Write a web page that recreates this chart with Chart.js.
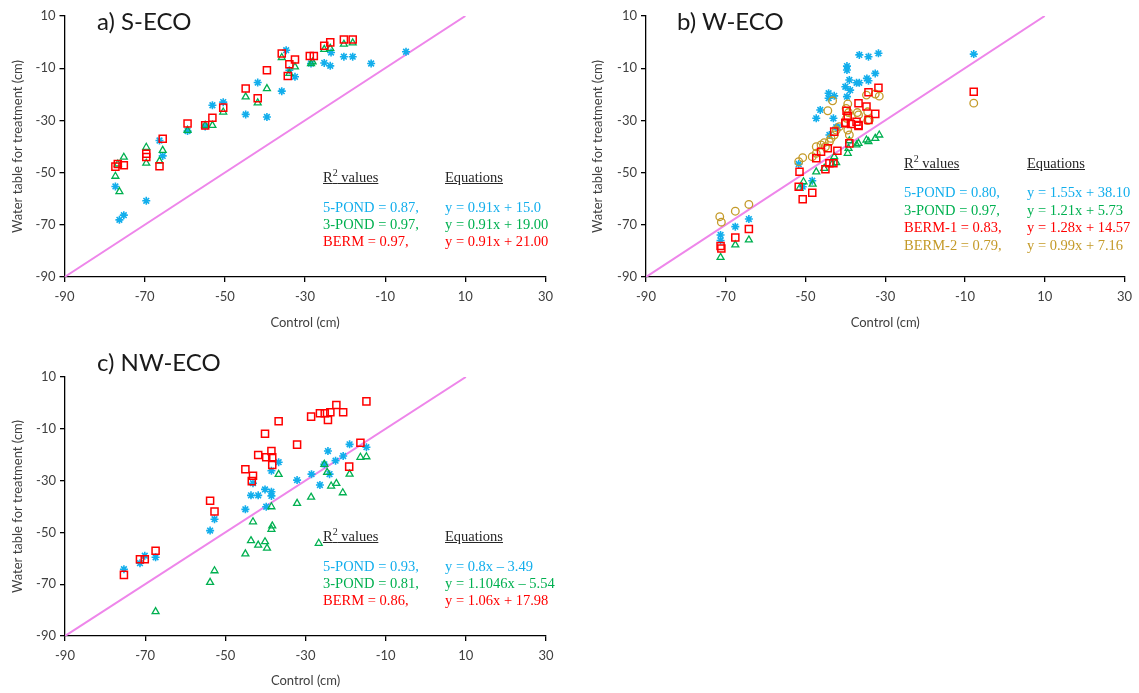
<!DOCTYPE html>
<html>
<head>
<meta charset="utf-8">
<script src="https://cdn.jsdelivr.net/npm/chart.js@4.4.0/dist/chart.umd.min.js"></script>
<style>
  body { margin: 0; background: #fff; }
  #page { position: relative; width: 1139px; height: 693px; overflow: hidden; background: #fff; }
  .panel { position: absolute; }
  .title { position: absolute; font-family: Lato, "Open Sans", sans-serif; font-size: 24px; line-height: 28px; color: #1a1a1a; white-space: nowrap; }
  .note { position: absolute; font-family: "Liberation Serif", "Times New Roman", serif; font-size: 14.5px; line-height: 17px; white-space: nowrap; }
  .note .sup { font-size: 10px; position: relative; top: -6px; }
  .hdr { color: #262626; text-decoration: underline; }
  .blue { color: #12AEEC; }
  .green { color: #00B050; }
  .red { color: #FF0000; }
  .gold { color: #C49A28; }
</style>
</head>
<body>
<div id="page">
  <canvas id="chart_s" class="panel" width="570" height="335" style="left:0;top:0"></canvas>
  <canvas id="chart_w" class="panel" width="559" height="335" style="left:580px;top:0"></canvas>
  <canvas id="chart_nw" class="panel" width="570" height="333" style="left:0;top:360px"></canvas>

  <div class="title" style="left:97px;top:7px">a) S-ECO</div>
  <div class="title" style="left:677px;top:7px">b) W-ECO</div>
  <div class="title" style="left:97px;top:348px">c) NW-ECO</div>

  <!-- S-ECO fit notes -->
  <div class="note hdr" style="left:323px;top:169px">R<span class="sup">2</span> values</div>
  <div class="note hdr" style="left:445px;top:169px">Equations</div>
  <div class="note blue" style="left:323px;top:199px">5-POND = 0.87,</div>
  <div class="note blue" style="left:445px;top:199px">y = 0.91x + 15.0</div>
  <div class="note green" style="left:323px;top:216px">3-POND = 0.97,</div>
  <div class="note green" style="left:445px;top:216px">y = 0.91x + 19.00</div>
  <div class="note red" style="left:323px;top:233px">BERM = 0.97,</div>
  <div class="note red" style="left:445px;top:233px">y = 0.91x + 21.00</div>

  <!-- W-ECO fit notes -->
  <div class="note hdr" style="left:904px;top:155px">R<span class="sup">2</span> values</div>
  <div class="note hdr" style="left:1027px;top:155px">Equations</div>
  <div class="note blue" style="left:904px;top:184px">5-POND = 0.80,</div>
  <div class="note blue" style="left:1027px;top:184px">y = 1.55x + 38.10</div>
  <div class="note green" style="left:904px;top:202px">3-POND = 0.97,</div>
  <div class="note green" style="left:1027px;top:202px">y = 1.21x + 5.73</div>
  <div class="note red" style="left:904px;top:219px">BERM-1 = 0.83,</div>
  <div class="note red" style="left:1027px;top:219px">y = 1.28x + 14.57</div>
  <div class="note gold" style="left:904px;top:237px">BERM-2 = 0.79,</div>
  <div class="note gold" style="left:1027px;top:237px">y = 0.99x + 7.16</div>

  <!-- NW-ECO fit notes -->
  <div class="note hdr" style="left:323px;top:528px">R<span class="sup">2</span> values</div>
  <div class="note hdr" style="left:445px;top:528px">Equations</div>
  <div class="note blue" style="left:323px;top:558px">5-POND = 0.93,</div>
  <div class="note blue" style="left:445px;top:558px">y = 0.8x – 3.49</div>
  <div class="note green" style="left:323px;top:575px">3-POND = 0.81,</div>
  <div class="note green" style="left:445px;top:575px">y = 1.1046x – 5.54</div>
  <div class="note red" style="left:323px;top:592px">BERM = 0.86,</div>
  <div class="note red" style="left:445px;top:592px">y = 1.06x + 17.98</div>
</div>

<script>
// axis ticks (cm)
const xTicks = [-90, -70, -50, -30, -10, 10, 30];
const yTicks = [-90, -70, -50, -30, -10, 10];

// 1:1 reference line
const oneToOne = [[-90, -90], [10, 10]];

// S-ECO: [control, treatment]
const sEcoPond5 = [[-77.3,-55.3],[-76.3,-68.1],[-75.2,-66.3],[-69.6,-60.8],[-66.3,-37.7],[-65.5,-43.6],[-59.3,-34.1],
  [-54.9,-32.3],[-53.1,-24.2],[-50.4,-23.0],[-44.8,-27.7],[-41.8,-15.5],[-39.5,-28.7],[-35.8,-18.8],[-34.7,-3.1],
  [-33.9,-10.8],[-32.5,-13.3],[-28.5,-8.2],[-25.2,-8.0],[-23.5,-4.0],[-23.7,-9.1],[-20.3,-5.6],[-18.1,-5.6],
  [-13.5,-8.2],[-4.8,-3.7]];
const sEcoPond3 = [[-77.3,-51.4],[-76.3,-57.3],[-76.7,-46.7],[-75.2,-44.1],[-69.6,-40.3],[-69.6,-46.4],[-66.3,-45.6],
  [-65.5,-41.5],[-59.3,-33.8],[-54.9,-31.9],[-53.1,-31.9],[-50.4,-26.8],[-44.8,-21.0],[-41.8,-23.3],[-39.5,-17.8],
  [-35.8,-5.9],[-33.9,-12.0],[-32.5,-9.5],[-28.5,-8.2],[-28.1,-7.6],[-25.2,-2.8],[-23.7,-2.4],[-20.3,-0.8],[-18.1,-0.3]];
const sEcoBerm = [[-77.3,-47.7],[-76.7,-46.7],[-75.2,-47.2],[-69.6,-42.8],[-69.6,-44.0],[-66.3,-47.6],[-65.5,-37.0],
  [-59.3,-31.2],[-54.9,-31.9],[-53.1,-29.0],[-50.4,-25.1],[-44.8,-17.8],[-41.8,-21.5],[-39.5,-10.8],[-35.8,-4.4],
  [-33.9,-8.5],[-34.3,-13.0],[-32.5,-6.7],[-28.8,-5.3],[-27.8,-5.3],[-25.2,-1.4],[-23.7,-0.1],[-20.3,1.0],[-18.1,1.0]];

// W-ECO
const wEcoPond5 = [[-71.3,-73.9],[-71.3,-76.0],[-67.6,-70.7],[-64.2,-67.8],[-51.7,-46.7],[-50.7,-55.4],[-48.3,-53.1],
  [-47.3,-29.2],[-46.3,-26.0],[-44.2,-19.6],[-44.2,-21.5],[-42.8,-20.6],[-43.0,-29.2],[-42.3,-32.6],[-44.0,-35.6],
  [-41.9,-32.6],[-40.0,-17.1],[-39.6,-9.2],[-39.6,-10.7],[-39.0,-14.5],[-38.8,-18.4],[-39.6,-20.9],[-37.2,-15.6],
  [-36.5,-15.6],[-36.5,-4.9],[-34.2,-5.6],[-31.7,-4.3],[-32.5,-12.0],[-34.6,-13.9],[-34.2,-14.8],[-7.8,-4.6]];
const wEcoPond3 = [[-71.3,-82.5],[-67.6,-77.7],[-64.2,-75.8],[-51.5,-56.0],[-50.5,-53.5],[-48.2,-54.4],[-47.3,-49.7],
  [-45.3,-48.4],[-43.3,-46.7],[-42.8,-43.9],[-42.3,-46.2],[-39.4,-42.6],[-39.2,-40.7],[-39.0,-37.8],[-37.2,-39.4],
  [-36.7,-38.8],[-34.7,-37.5],[-34.2,-38.1],[-32.5,-36.9],[-31.5,-35.6]];
const wEcoBerm1 = [[-71.3,-78.1],[-71.1,-79.1],[-67.6,-74.9],[-64.2,-71.6],[-51.5,-49.7],[-51.7,-55.4],[-50.7,-60.2],
  [-48.3,-57.7],[-47.3,-44.5],[-46.1,-42.0],[-45.0,-48.7],[-44.4,-40.7],[-44.0,-46.4],[-43.0,-46.4],[-42.0,-41.6],
  [-42.8,-34.3],[-39.0,-38.8],[-40.0,-31.1],[-38.6,-31.4],[-36.7,-31.8],[-39.7,-26.3],[-39.4,-28.3],[-37.2,-30.5],
  [-34.2,-29.8],[-40.0,-30.9],[-36.7,-32.1],[-36.7,-23.4],[-34.7,-24.7],[-32.5,-27.5],[-34.2,-19.2],[-31.7,-17.5],
  [-7.8,-19.0]];
const wEcoBerm2 = [[-71.5,-66.9],[-71.1,-69.0],[-67.6,-64.8],[-64.2,-62.2],[-51.7,-45.8],[-50.7,-44.3],[-48.3,-43.9],
  [-47.3,-42.6],[-47.3,-40.1],[-46.1,-39.4],[-45.0,-40.1],[-45.3,-38.5],[-44.0,-38.2],[-43.6,-36.9],[-42.8,-35.6],
  [-42.3,-33.7],[-41.5,-32.4],[-39.4,-33.7],[-39.0,-35.6],[-34.4,-30.1],[-43.2,-22.5],[-44.4,-26.3],[-39.4,-23.7],
  [-39.8,-25.4],[-39.2,-27.0],[-37.0,-27.0],[-36.7,-27.9],[-34.4,-26.7],[-34.7,-20.3],[-32.5,-19.9],[-31.5,-20.7],
  [-39.7,-29.2],[-34.0,-29.8],[-7.8,-23.4]];

// NW-ECO
const nwEcoPond5 = [[-75.3,-64.2],[-71.3,-61.9],[-70.1,-59.0],[-67.4,-59.6],[-53.8,-49.3],[-52.7,-44.9],[-45.0,-41.1],
  [-43.1,-31.0],[-43.6,-35.7],[-41.8,-35.7],[-40.1,-33.4],[-39.8,-40.1],[-38.5,-34.3],[-38.5,-35.9],[-38.5,-26.2],
  [-36.7,-22.9],[-32.1,-29.8],[-28.5,-27.5],[-26.4,-31.7],[-25.3,-23.7],[-24.0,-27.5],[-24.4,-18.6],[-22.5,-22.3],
  [-20.6,-20.5],[-19.0,-16.0],[-14.8,-17.1]];
const nwEcoPond3 = [[-67.4,-80.6],[-53.8,-69.3],[-52.7,-64.8],[-45.0,-58.3],[-43.6,-53.2],[-43.1,-45.9],[-41.8,-54.9],
  [-40.1,-53.6],[-39.6,-56.1],[-38.5,-48.8],[-38.3,-47.5],[-38.5,-40.1],[-36.7,-27.6],[-32.1,-38.8],[-28.6,-36.4],
  [-26.7,-54.2],[-25.3,-23.7],[-24.6,-26.8],[-22.3,-31.1],[-23.6,-32.1],[-20.7,-34.7],[-19.0,-27.5],[-16.3,-21.0],
  [-14.8,-20.8]];
const nwEcoBerm = [[-75.3,-66.4],[-71.3,-60.4],[-70.1,-60.4],[-67.4,-57.1],[-53.8,-37.8],[-52.7,-41.9],[-45.0,-25.6],
  [-43.1,-28.1],[-43.4,-30.2],[-41.8,-20.1],[-40.1,-11.9],[-39.8,-21.0],[-38.5,-18.6],[-38.3,-21.0],[-38.3,-24.0],
  [-36.7,-7.1],[-32.1,-16.1],[-28.6,-5.3],[-26.4,-4.0],[-25.2,-4.0],[-24.4,-6.6],[-23.8,-3.6],[-22.3,-0.8],
  [-20.6,-3.6],[-14.8,0.6],[-16.3,-15.4],[-19.1,-24.6]];

const AXIS_FONT = { family: "Lato, 'Open Sans', sans-serif", size: 13 };

function toPoints(pairs){
  return pairs.map(p => ({ x: p[0], y: p[1] }));
}

// marker looks for each treatment
function pondFive(pairs){
  return { data: toPoints(pairs), pointStyle: "star", pointRadius: 4, borderColor: "#12AEEC",
           backgroundColor: "rgba(0,0,0,0)", pointBorderWidth: 1.6 };
}
function pondThree(pairs){
  return { data: toPoints(pairs), pointStyle: "triangle", pointRadius: 4, borderColor: "#00B050",
           backgroundColor: "rgba(0,0,0,0)", pointBorderWidth: 1.3 };
}
function berm(pairs){
  return { data: toPoints(pairs), pointStyle: "rect", pointRadius: 5, borderColor: "#FF0000",
           backgroundColor: "rgba(0,0,0,0)", pointBorderWidth: 1.5 };
}
function bermTwo(pairs){
  return { data: toPoints(pairs), pointStyle: "circle", pointRadius: 3.8, borderColor: "#C49A28",
           backgroundColor: "rgba(0,0,0,0)", pointBorderWidth: 1.3 };
}
function refLine(){
  return { data: toPoints(oneToOne), showLine: true, borderColor: "#EE86EA", borderWidth: 2,
           pointRadius: 0, backgroundColor: "rgba(0,0,0,0)" };
}

function makePanel(canvas_id, area, datasets){
  const canvas = document.getElementById(canvas_id);
  const W = canvas.width, H = canvas.height;

  new Chart(canvas.getContext("2d"), {
    type: "scatter",
    data: { datasets: datasets },
    options: {
      responsive: false,
      animation: false,
      layout: { padding: { left: 0, top: area.top, right: W - area.right, bottom: 0 } },
      plugins: { legend: { display: false }, tooltip: { enabled: false } },
      scales: {
        x: {
          type: "linear", min: -90, max: 30,
          afterBuildTicks: s => { s.ticks = xTicks.map(v => ({ value: v })); },
          afterFit: s => { s.height = H - area.bottom; },
          border: { color: "#000", width: 1.3 },
          grid: { drawOnChartArea: false, drawTicks: true, tickLength: 5, color: "#000", lineWidth: 1.3 },
          ticks: { color: "#404040", font: AXIS_FONT, padding: 7, maxRotation: 0, autoSkip: false },
          title: { display: true, text: "Control (cm)", color: "#404040", font: AXIS_FONT, padding: { top: 0, bottom: 4 } }
        },
        y: {
          type: "linear", min: -90, max: 10,
          afterBuildTicks: s => { s.ticks = yTicks.map(v => ({ value: v })); },
          afterFit: s => { s.width = area.left; },
          border: { color: "#000", width: 1.3 },
          grid: { drawOnChartArea: false, drawTicks: true, tickLength: 5, color: "#000", lineWidth: 1.3 },
          ticks: { color: "#404040", font: AXIS_FONT, padding: 4, autoSkip: false },
          title: { display: true, text: "Water table for treatment (cm)", color: "#404040", font: AXIS_FONT, padding: { top: 10, bottom: 0 } }
        }
      }
    }
  });
}

// first dataset ends up drawn on top
makePanel("chart_s", { left: 64.5, right: 545.5, top: 16, bottom: 277 },
  [berm(sEcoBerm), pondThree(sEcoPond3), pondFive(sEcoPond5), refLine()]);

makePanel("chart_w", { left: 66, right: 546, top: 16, bottom: 277 },
  [berm(wEcoBerm1), bermTwo(wEcoBerm2), pondThree(wEcoPond3), pondFive(wEcoPond5), refLine()]);

makePanel("chart_nw", { left: 65, right: 546, top: 17, bottom: 276 },
  [berm(nwEcoBerm), pondThree(nwEcoPond3), pondFive(nwEcoPond5), refLine()]);
</script>
</body>
</html>
